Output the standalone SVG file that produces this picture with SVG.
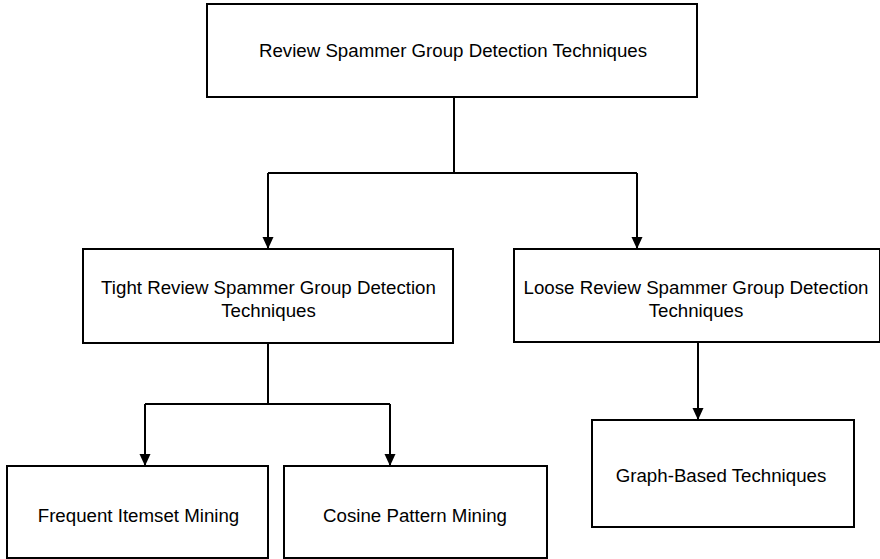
<svg xmlns="http://www.w3.org/2000/svg" width="880" height="559" viewBox="0 0 880 559">
  <style>
    .box { fill: #ffffff; stroke: #000000; stroke-width: 2; }
    .lbl { font-family: "Liberation Sans", Arial, Helvetica, sans-serif; font-size: 18.7px; fill: #000000; text-anchor: middle; }
    .edge { fill: none; stroke: #000000; stroke-width: 2; }
  </style>
  <defs>
    <marker id="arrow" markerWidth="12" markerHeight="12" refX="12" refY="6" orient="auto" markerUnits="userSpaceOnUse">
      <path d="M0,0.5 L12,6 L0,11.5 Z" fill="#000000"/>
    </marker>
  </defs>
  <rect width="880" height="559" fill="#ffffff"/>

  <g id="connectors">
    <path class="edge" d="M454,97 V173"/>
    <path class="edge" d="M268,173 H637"/>
    <path class="edge" d="M268,173 V249" marker-end="url(#arrow)"/>
    <path class="edge" d="M637,173 V249" marker-end="url(#arrow)"/>
    <path class="edge" d="M268,343 V404"/>
    <path class="edge" d="M145,404 H390"/>
    <path class="edge" d="M145,404 V466" marker-end="url(#arrow)"/>
    <path class="edge" d="M390,404 V466" marker-end="url(#arrow)"/>
    <path class="edge" d="M698,343 V420" marker-end="url(#arrow)"/>
  </g>

  <g id="root">
    <rect class="box" x="207" y="4" width="490" height="93"/>
    <text class="lbl" x="453" y="57">Review Spammer Group Detection Techniques</text>
  </g>

  <g id="tight">
    <rect class="box" x="83" y="249" width="370" height="94"/>
    <text class="lbl" x="268.5" y="294">Tight Review Spammer Group Detection</text>
    <text class="lbl" x="268.5" y="317">Techniques</text>
  </g>

  <g id="loose">
    <rect class="box" x="514" y="249" width="366" height="93"/>
    <text class="lbl" x="696" y="294">Loose Review Spammer Group Detection</text>
    <text class="lbl" x="696" y="317">Techniques</text>
  </g>

  <g id="frequent">
    <rect class="box" x="7" y="466" width="261" height="92"/>
    <text class="lbl" x="138.5" y="522">Frequent Itemset Mining</text>
  </g>

  <g id="cosine">
    <rect class="box" x="284" y="466" width="263" height="92"/>
    <text class="lbl" x="415" y="522">Cosine Pattern Mining</text>
  </g>

  <g id="graph">
    <rect class="box" x="592" y="420" width="262" height="107"/>
    <text class="lbl" x="721" y="482">Graph-Based Techniques</text>
  </g>
</svg>
